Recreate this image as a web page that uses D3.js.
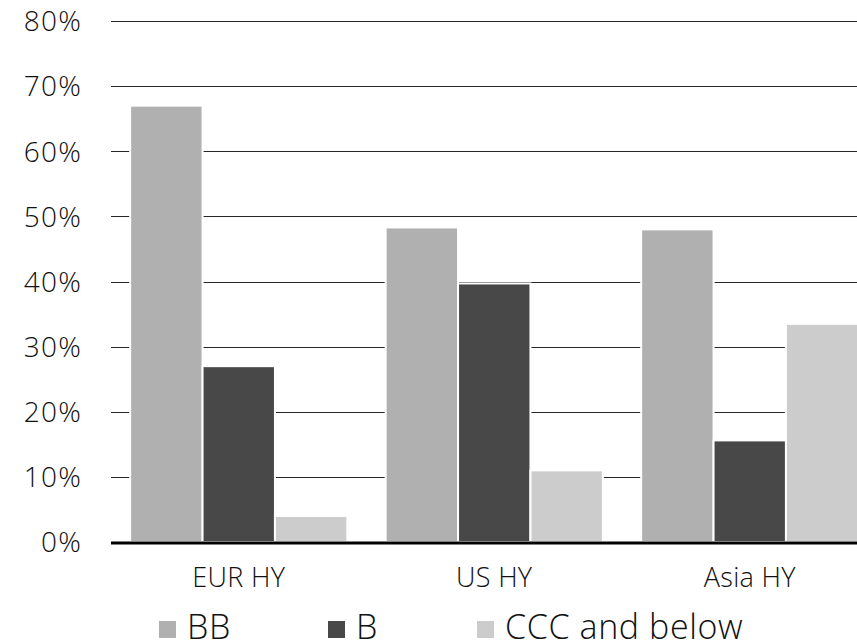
<!DOCTYPE html>
<html>
<head>
<meta charset="utf-8">
<script src="https://cdn.jsdelivr.net/npm/d3@7/dist/d3.min.js"></script>
<style>
  html, body { margin: 0; padding: 0; background: #fff; }
  svg { display: block; font-family: "Open Sans", "Noto Sans", sans-serif; font-weight: 350; }
</style>
</head>
<body>
<svg id="chart" width="857" height="643"></svg>
<script>
const categories = ["EUR HY", "US HY", "Asia HY"];
const seriesNames = ["BB", "B", "CCC and below"];
const seriesColors = ["#b0b0b0", "#484848", "#cccccc"];
const bbValues = [67.0, 48.3, 48.0];
const bValues = [27.0, 39.7, 15.6];
const cccValues = [4.0, 11.0, 33.5];
const yTicks = [0, 10, 20, 30, 40, 50, 60, 70, 80];

const seriesValues = [bbValues, bValues, cccValues];
const data = categories.map((c, i) => ({
  category: c,
  values: seriesNames.map((s, j) => ({ series: s, value: seriesValues[j][i], color: seriesColors[j] }))
}));

const svg = d3.select("#chart");
const margin = { left: 111, right: -20.5, top: 21, bottom: 101 };
const W = 857, H = 643;

const y = d3.scaleLinear().domain([0, 80]).range([H - margin.bottom, margin.top]);
const x0 = d3.scaleBand().domain(categories)
  .range([margin.left, W - margin.right])
  .paddingInner(0.15).paddingOuter(0.075);
const x1 = d3.scaleBand().domain(seriesNames).range([0, x0.bandwidth()]).padding(0);

// gridlines
const grid = svg.append("g");
grid.selectAll("line").data(yTicks.filter(t => t > 0)).join("line")
  .attr("x1", margin.left).attr("x2", W)
  .attr("y1", d => Math.round(y(d)) + 0.5).attr("y2", d => Math.round(y(d)) + 0.5)
  .attr("stroke", "#262626").attr("stroke-width", 1);

// y axis labels
const yAxis = d3.axisLeft(y).tickValues(yTicks).tickFormat(d => d + "%").tickSize(0).tickPadding(0);
const yg = svg.append("g").attr("transform", `translate(82,0)`).call(yAxis);
yg.select(".domain").remove();
yg.selectAll("text")
  .attr("font-size", 28).attr("fill", "#111")
  .attr("font-family", "'Open Sans', 'Noto Sans', sans-serif")
  .attr("font-weight", 350)
  .attr("letter-spacing", 1.2)
  .attr("dy", "0.35em");

// bars
const groups = svg.append("g").selectAll("g").data(data).join("g")
  .attr("transform", d => `translate(${x0(d.category)},0)`);
groups.selectAll("rect").data(d => d.values).join("rect")
  .attr("x", d => x1(d.series))
  .attr("width", x1.bandwidth())
  .attr("y", d => y(d.value))
  .attr("height", d => y(0) - y(d.value))
  .attr("fill", d => d.color)
  .attr("stroke", "#ffffff")
  .attr("stroke-width", 2);

// baseline
svg.append("line")
  .attr("x1", margin.left).attr("x2", W)
  .attr("y1", y(0) + 1).attr("y2", y(0) + 1)
  .attr("stroke", "#000").attr("stroke-width", 2.8);

// x axis labels
const xAxis = d3.axisBottom(x0).tickSize(0).tickPadding(0);
const xg = svg.append("g").attr("transform", `translate(0,${y(0) + 36})`).call(xAxis);
xg.select(".domain").remove();
xg.selectAll("text")
  .attr("font-size", 27).attr("fill", "#111")
  .attr("font-family", "'Open Sans', 'Noto Sans', sans-serif")
  .attr("font-weight", 350)
  .attr("letter-spacing", 0.3)
  .attr("dy", "0.35em");

// legend
const legendX = [159, 328, 477];
const legend = svg.append("g").selectAll("g").data(seriesNames).join("g")
  .attr("transform", (d, i) => `translate(${legendX[i]},621)`);
legend.append("rect")
  .attr("width", 17).attr("height", 17)
  .attr("fill", (d, i) => seriesColors[i]);
legend.append("text")
  .attr("x", 28).attr("y", 18)
  .attr("font-size", 34).attr("fill", "#111")
  .attr("font-weight", 350)
  .attr("letter-spacing", 0.6)
  .text(d => d);
</script>
</body>
</html>
